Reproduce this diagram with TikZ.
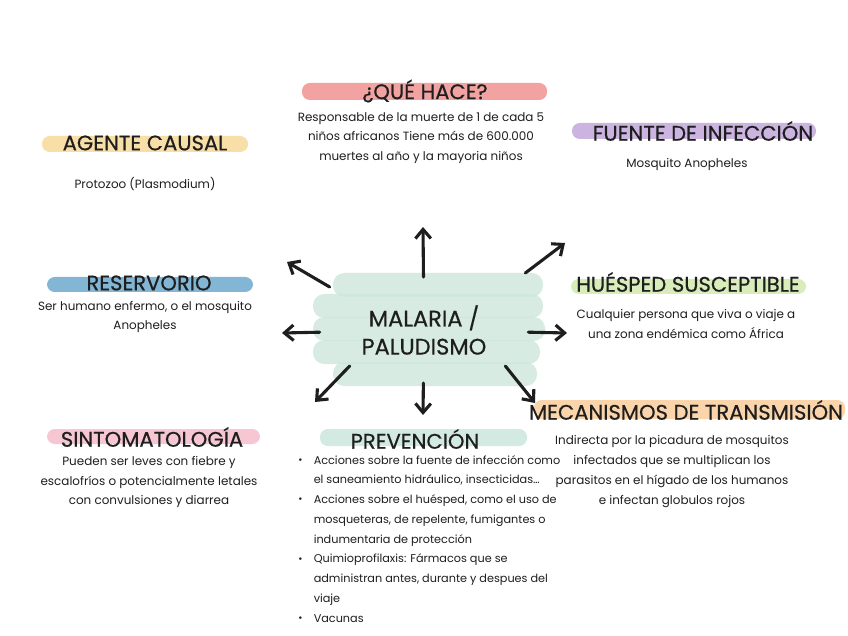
\documentclass[tikz,border=0pt]{standalone}
\usepackage{fontspec}
\setmainfont{Poppins}
\newfontfamily\headfont[FakeBold=0.5]{Poppins}
\usepackage{xcolor}
\usetikzlibrary{arrows.meta}

\definecolor{hlpink}{HTML}{F3A2A2}
\definecolor{hlyellow}{HTML}{F8DFA8}
\definecolor{hllilac}{HTML}{CBB4E0}
\definecolor{hlblue}{HTML}{82B6D4}
\definecolor{hlgreen}{HTML}{D8EDBA}
\definecolor{hlorange}{HTML}{FAD4AA}
\definecolor{hlrose}{HTML}{F6C6D2}
\definecolor{hlmint}{HTML}{D2EAE1}
\definecolor{blobmint}{HTML}{CDE7DC}
\definecolor{ink}{HTML}{1E1E1E}

\newcommand{\bul}{\makebox[11pt][l]{\raisebox{0.5pt}{\scalebox{0.9}{\textbullet}}}}
\newcommand{\ind}{\hspace*{11pt}}

\begin{document}
\begin{tikzpicture}[x=0.025cm, y=-0.025cm, text=ink,
    head/.style={font=\headfont\fontsize{15}{18}\selectfont, inner sep=0pt},
    body/.style={font=\fontsize{8.5}{14.05}\selectfont, align=center, inner sep=0pt},
    hl/.style={rounded corners=5.5pt},
    blob/.style={rounded corners=8pt, blobmint, opacity=0.8},
    arr/.style={-{Straight Barb[length=6.5pt,width=11pt]}, line width=2.2pt, line cap=round, ink}]

    \useasboundingbox[fill=white] (0,0) rectangle (848,636);

    % Highlights
    \fill[hl, hlpink]   (302,83) rectangle (547,100);
    \fill[hl, hlyellow] (42,136) rectangle (248,152);
    \fill[hl, hllilac]  (572,123) rectangle (816,139);
    \fill[hl, hlblue]   (47,277) rectangle (253,292);
    \fill[hl, hlgreen]  (571,279) rectangle (806,294);
    \fill[hl, hlorange] (534,400) rectangle (845,419);
    \fill[hl, hlrose]   (47,429) rectangle (260,444);
    \fill[hl, hlmint]   (320,429) rectangle (527,446);

    % Center blob
    \fill[blob] (333,273) rectangle (543,297);
    \fill[blob] (313,294) rectangle (543,318);
    \fill[blob] (313,317) rectangle (545,341);
    \fill[blob] (313,340) rectangle (540,364);
    \fill[blob] (333,362) rectangle (537,386);

    % Nodes
    \node (malaria) [minimum width=148pt, minimum height=75pt, align=center,
        font=\headfont\fontsize{16}{20}\selectfont] at (424,330) {MALARIA /\\PALUDISMO};

    \node (quehace) [head] at (425,91) {¿QUÉ HACE?};
    \node (quehacetxt) [body] at (421,138) {Responsable de la muerte de 1 de cada 5\\niños africanos Tiene más de 600.000\\muertes al año y la mayoria niños};

    \node (agente) [head] at (145,143) {AGENTE CAUSAL};
    \node (agentetxt) [body] at (145,184) {Protozoo (Plasmodium)};

    \node (fuente) [head] at (703,131) {FUENTE DE INFECCIÓN};
    \node (fuentetxt) [body] at (687,165) {Mosquito Anopheles};

    \node (reservorio) [head] at (149,283) {RESERVORIO};
    \node (reservoriotxt) [body] at (145,317) {Ser humano enfermo, o el mosquito\\Anopheles};

    \node (huesped) [head] at (688,282) {HUÉSPED SUSCEPTIBLE};
    \node (huespedtxt) [body] at (686,324) {Cualquier persona que viva o viaje a\\una zona endémica como África};

    \node (mecanismos) [head] at (686,410) {MECANISMOS DE TRANSMISIÓN};
    \node (mecanismostxt) [body] at (672,471.5) {Indirecta por la picadura de mosquitos\\infectados que se multiplican los\\parasitos en el hígado de los humanos\\e infectan globulos rojos};

    \node (sintoma) [head] at (152,437) {SINTOMATOLOGÍA};
    \node (sintomatxt) [body] at (149,482) {Pueden ser leves con fiebre y\\escalofríos o potencialmente letales\\con convulsiones y diarrea};

    \node (prevencion) [head] at (415,439) {PREVENCIÓN};
    \node (prevenciontxt) [body, font=\fontsize{8}{14.05}\selectfont, align=left, anchor=north west] at (298,455) {\bul Acciones sobre la fuente de infección como\\\ind el saneamiento hidráulico, insecticidas…\\\bul Acciones sobre el huésped, como el uso de\\\ind mosqueteras, de repelente, fumigantes o\\\ind indumentaria de protección\\\bul Quimioprofilaxis: Fármacos que se\\\ind administran antes, durante y despues del\\\ind viaje\\\bul Vacunas};

    % Arrow tips
    \coordinate (tipup) at (423,227);
    \coordinate (tipul) at (287,262);
    \coordinate (tipur) at (565,243);
    \coordinate (tipl)  at (282,333);
    \coordinate (tipr)  at (567,333);
    \coordinate (tipdl) at (315,402);
    \coordinate (tipd)  at (423,415);
    \coordinate (tipdr) at (535,403);

    % Connections
    \draw[arr] (malaria) -- (tipup);
    \draw[arr] (malaria) -- (tipl);
    \draw[arr] (malaria) -- (tipr);
    \draw[arr] (malaria) -- (tipd);
    \draw[arr] ([shift={(10,10)}]malaria.north west) -- (tipul);
    \draw[arr] ([shift={(-3,-4)}]malaria.north east) -- (tipur);
    \draw[arr] ([shift={(30,-17)}]malaria.south west) -- (tipdl);
    \draw[arr] ([shift={(-23,-17)}]malaria.south east) -- (tipdr);
\end{tikzpicture}
\end{document}
